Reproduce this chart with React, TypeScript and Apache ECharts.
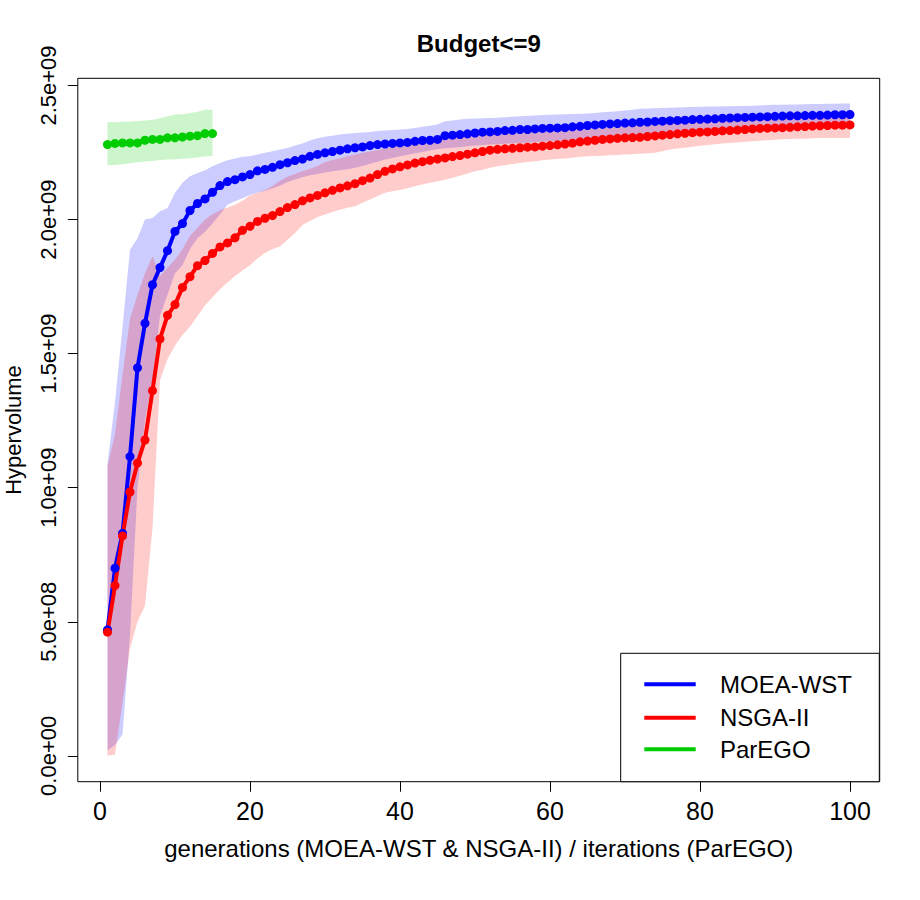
import React, { useEffect, useRef } from "react";
import * as echarts from "echarts";

const SCALE = 1e9;
const FONT = "'Liberation Sans', Arial, sans-serif";

const chartTitle = "Budget<=9";
const xAxisName = "generations (MOEA-WST & NSGA-II) / iterations (ParEGO)";
const yAxisName = "Hypervolume";
const legendNames = ["MOEA-WST", "NSGA-II", "ParEGO"];
const lineColors = ["#0000FF", "#FF0000", "#00CD00"];
const bandColors = ["rgba(0,0,255,0.2)", "rgba(255,0,0,0.2)", "rgba(0,205,0,0.2)"];

const generations = Array.from({ length: 100 }, (_, i) => i + 1);
const iterations = Array.from({ length: 15 }, (_, i) => i + 1);

const xTicks = [0, 20, 40, 60, 80, 100];
const yTicks = [0, 0.5e9, 1.0e9, 1.5e9, 2.0e9, 2.5e9];

// values in units of 1e9
const moeaMean = [
  0.47, 0.70, 0.83, 1.116, 1.447, 1.613, 1.757, 1.821, 1.884, 1.956,
  1.985, 2.034, 2.060, 2.077, 2.102, 2.127, 2.142, 2.149, 2.159, 2.168,
  2.182, 2.187, 2.195, 2.205, 2.212, 2.220, 2.226, 2.236, 2.243, 2.249,
  2.254, 2.259, 2.264, 2.268, 2.271, 2.276, 2.280, 2.282, 2.284, 2.286,
  2.288, 2.292, 2.295, 2.296, 2.299, 2.313, 2.315, 2.317, 2.320, 2.323,
  2.326, 2.327, 2.329, 2.332, 2.333, 2.336, 2.336, 2.338, 2.340, 2.341,
  2.342, 2.343, 2.346, 2.348, 2.351, 2.353, 2.355, 2.357, 2.358, 2.360,
  2.361, 2.363, 2.364, 2.366, 2.367, 2.369, 2.370, 2.371, 2.373, 2.374,
  2.375, 2.376, 2.378, 2.379, 2.380, 2.381, 2.382, 2.383, 2.384, 2.385,
  2.386, 2.387, 2.387, 2.388, 2.389, 2.389, 2.390, 2.391, 2.391, 2.392,
];
const moeaUpper = [
  1.09, 1.32, 1.60, 1.888, 1.93, 2.00, 2.006, 2.031, 2.043, 2.100,
  2.137, 2.162, 2.174, 2.184, 2.199, 2.211, 2.221, 2.228, 2.234, 2.236,
  2.243, 2.249, 2.255, 2.261, 2.267, 2.276, 2.284, 2.295, 2.303, 2.309,
  2.313, 2.317, 2.320, 2.323, 2.325, 2.327, 2.330, 2.332, 2.334, 2.336,
  2.338, 2.342, 2.346, 2.350, 2.356, 2.367, 2.370, 2.373, 2.376, 2.377,
  2.378, 2.379, 2.380, 2.382, 2.384, 2.385, 2.387, 2.388, 2.390, 2.391,
  2.392, 2.393, 2.394, 2.395, 2.396, 2.398, 2.400, 2.402, 2.404, 2.407,
  2.410, 2.413, 2.414, 2.415, 2.416, 2.417, 2.418, 2.419, 2.420, 2.421,
  2.422, 2.422, 2.423, 2.423, 2.424, 2.424, 2.425, 2.426, 2.427, 2.428,
  2.428, 2.429, 2.429, 2.430, 2.431, 2.431, 2.432, 2.432, 2.433, 2.433,
];
const moeaLower = [
  0.02, 0.04, 0.08, 0.45, 1.00, 1.25, 1.40, 1.64, 1.72, 1.80,
  1.83, 1.89, 1.93, 1.955, 1.985, 2.02, 2.055, 2.068, 2.08, 2.092,
  2.100, 2.108, 2.117, 2.126, 2.140, 2.150, 2.158, 2.165, 2.170, 2.176,
  2.180, 2.184, 2.188, 2.193, 2.200, 2.208, 2.216, 2.224, 2.230, 2.236,
  2.242, 2.247, 2.252, 2.258, 2.262, 2.266, 2.268, 2.271, 2.274, 2.276,
  2.278, 2.280, 2.281, 2.283, 2.284, 2.286, 2.287, 2.289, 2.290, 2.292,
  2.293, 2.295, 2.297, 2.299, 2.300, 2.302, 2.304, 2.306, 2.308, 2.310,
  2.312, 2.314, 2.316, 2.318, 2.320, 2.322, 2.324, 2.326, 2.328, 2.330,
  2.332, 2.334, 2.336, 2.338, 2.340, 2.341, 2.343, 2.344, 2.346, 2.348,
  2.349, 2.350, 2.352, 2.353, 2.355, 2.356, 2.357, 2.358, 2.359, 2.360,
];

const nsgaMean = [
  0.461, 0.635, 0.82, 0.984, 1.092, 1.178, 1.362, 1.555, 1.643, 1.683,
  1.747, 1.787, 1.828, 1.847, 1.874, 1.898, 1.913, 1.932, 1.960, 1.975,
  1.993, 2.005, 2.015, 2.030, 2.045, 2.056, 2.070, 2.081, 2.090, 2.100,
  2.109, 2.118, 2.126, 2.134, 2.145, 2.155, 2.168, 2.180, 2.189, 2.197,
  2.204, 2.211, 2.216, 2.221, 2.226, 2.230, 2.235, 2.239, 2.244, 2.249,
  2.254, 2.259, 2.262, 2.264, 2.266, 2.268, 2.270, 2.271, 2.274, 2.276,
  2.279, 2.282, 2.285, 2.290, 2.293, 2.296, 2.299, 2.301, 2.303, 2.305,
  2.306, 2.307, 2.310, 2.312, 2.315, 2.317, 2.320, 2.322, 2.324, 2.326,
  2.327, 2.329, 2.331, 2.332, 2.334, 2.336, 2.338, 2.340, 2.341, 2.342,
  2.343, 2.344, 2.346, 2.347, 2.349, 2.350, 2.351, 2.352, 2.352, 2.353,
];
const nsgaUpper = [
  1.08, 1.20, 1.42, 1.63, 1.72, 1.80, 1.863, 1.79, 1.82, 1.85,
  1.89, 1.94, 1.97, 2.00, 2.02, 2.035, 2.045, 2.055, 2.07, 2.09,
  2.10, 2.11, 2.125, 2.145, 2.16, 2.17, 2.18, 2.19, 2.20, 2.215,
  2.222, 2.229, 2.236, 2.243, 2.249, 2.254, 2.260, 2.265, 2.271, 2.277,
  2.282, 2.286, 2.292, 2.300, 2.311, 2.313, 2.314, 2.315, 2.316, 2.317,
  2.318, 2.320, 2.321, 2.323, 2.324, 2.325, 2.325, 2.326, 2.327, 2.328,
  2.330, 2.331, 2.333, 2.335, 2.337, 2.339, 2.341, 2.343, 2.345, 2.347,
  2.349, 2.352, 2.354, 2.355, 2.357, 2.358, 2.360, 2.361, 2.363, 2.365,
  2.366, 2.367, 2.368, 2.369, 2.370, 2.371, 2.372, 2.373, 2.374, 2.375,
  2.376, 2.377, 2.377, 2.378, 2.378, 2.379, 2.379, 2.380, 2.380, 2.381,
];
const nsgaLower = [
  0.0, 0.005, 0.20, 0.40, 0.50, 0.56, 0.85, 1.40, 1.48, 1.53,
  1.57, 1.60, 1.64, 1.68, 1.71, 1.74, 1.765, 1.79, 1.81, 1.83,
  1.855, 1.875, 1.89, 1.90, 1.925, 1.95, 1.98, 1.995, 2.01, 2.019,
  2.028, 2.037, 2.044, 2.05, 2.063, 2.075, 2.088, 2.10, 2.106, 2.11,
  2.117, 2.124, 2.131, 2.137, 2.143, 2.149, 2.156, 2.164, 2.172, 2.18,
  2.186, 2.193, 2.199, 2.203, 2.207, 2.211, 2.215, 2.218, 2.221, 2.224,
  2.226, 2.228, 2.231, 2.234, 2.236, 2.237, 2.238, 2.240, 2.241, 2.243,
  2.244, 2.246, 2.247, 2.249, 2.255, 2.261, 2.265, 2.268, 2.272, 2.275,
  2.278, 2.281, 2.284, 2.286, 2.288, 2.290, 2.292, 2.294, 2.296, 2.298,
  2.300, 2.301, 2.302, 2.302, 2.303, 2.304, 2.304, 2.304, 2.304, 2.304,
];

const paregoMean = [
  2.280, 2.284, 2.286, 2.286, 2.286, 2.296, 2.299, 2.299, 2.305, 2.305,
  2.308, 2.311, 2.313, 2.321, 2.321,
];
const paregoUpper = [
  2.363, 2.363, 2.365, 2.366, 2.368, 2.370, 2.372, 2.378, 2.385, 2.392,
  2.393, 2.398, 2.402, 2.410, 2.410,
];
const paregoLower = [
  2.203, 2.204, 2.206, 2.210, 2.214, 2.217, 2.219, 2.222, 2.224, 2.225,
  2.227, 2.229, 2.232, 2.236, 2.236,
];

function fmtSci(v: number): string {
  const [m, e] = v.toExponential(1).split("e");
  const sign = e[0] === "-" ? "-" : "+";
  const digits = e.replace(/[+-]/, "").padStart(2, "0");
  return `${m}e${sign}${digits}`;
}

function bandSeries(name: string, xs: number[], lo: number[], hi: number[], fill: string) {
  return {
    type: "custom",
    name,
    silent: true,
    clip: true,
    z: 1,
    data: [[xs[0], lo[0] * SCALE]],
    renderItem: (_params: any, api: any) => {
      const pts: number[][] = [];
      for (let i = 0; i < xs.length; i++) pts.push(api.coord([xs[i], hi[i] * SCALE]));
      for (let i = xs.length - 1; i >= 0; i--) pts.push(api.coord([xs[i], lo[i] * SCALE]));
      return { type: "polygon", shape: { points: pts }, style: { fill, stroke: null } };
    },
  };
}

function lineSeries(name: string, xs: number[], vs: number[], color: string) {
  return {
    type: "line",
    name,
    silent: true,
    z: 2,
    data: xs.map((x, i) => [x, vs[i] * SCALE]),
    symbol: "circle",
    symbolSize: 9,
    showSymbol: true,
    showAllSymbol: true,
    lineStyle: { width: 4, color },
    itemStyle: { color },
  };
}

export default function App() {
  const ref = useRef<HTMLDivElement>(null);
  useEffect(() => {
    if (!ref.current) return;
    const chart = echarts.init(ref.current, null, { renderer: "svg" });
    const legendY = [684.3, 717.7, 749.3];
    const legendGraphics: any[] = [
      {
        type: "rect",
        shape: { x: 620.7, y: 653.3, width: 258.6, height: 128.4 },
        style: { fill: "#ffffff", stroke: "#000000", lineWidth: 1 },
        z: 100,
      },
    ];
    legendNames.forEach((n, i) => {
      legendGraphics.push({
        type: "line",
        shape: { x1: 644.3, y1: legendY[i], x2: 695.7, y2: legendY[i] },
        style: { stroke: lineColors[i], lineWidth: 4 },
        z: 101,
      });
      legendGraphics.push({
        type: "text",
        x: 720,
        y: legendY[i],
        style: {
          text: n,
          fill: "#000",
          font: `24px ${FONT}`,
          textAlign: "left",
          textVerticalAlign: "middle",
        },
        z: 101,
      });
    });

    chart.setOption({
      animation: false,
      backgroundColor: "#ffffff",
      title: {
        text: chartTitle,
        left: 478.75,
        top: 31,
        textAlign: "center",
        padding: 0,
        textStyle: { fontFamily: FONT, fontWeight: "bold", fontSize: 24, color: "#000" },
      },
      grid: {
        left: 77.8,
        right: 40.3,
        top: 78.3,
        bottom: 118.3,
        show: true,
        borderColor: "#000",
        borderWidth: 1,
        backgroundColor: "transparent",
        containLabel: false,
        outerBoundsMode: "none",
      },
      xAxis: {
        type: "value",
        min: -2.96,
        max: 103.96,
        axisLine: { show: false, onZero: false },
        splitLine: { show: false },
        axisTick: { show: true, inside: false, customValues: xTicks, length: 10, lineStyle: { color: "#000", width: 1 } },
        axisLabel: { customValues: xTicks, margin: 17, color: "#000", fontSize: 25, fontFamily: FONT },
        name: xAxisName,
        nameLocation: "middle",
        nameGap: 55,
        nameTextStyle: { color: "#000", fontSize: 24, fontFamily: FONT },
      },
      yAxis: {
        type: "value",
        min: -0.0965e9,
        max: 2.527e9,
        axisLine: { show: false, onZero: false },
        splitLine: { show: false },
        axisTick: { show: true, inside: false, customValues: yTicks, length: 10, lineStyle: { color: "#000", width: 1 } },
        axisLabel: {
          customValues: yTicks,
          rotate: 90,
          margin: 18,
          color: "#000",
          fontSize: 22,
          fontFamily: FONT,
          formatter: (v: number) => fmtSci(v),
        },
        name: yAxisName,
        nameLocation: "middle",
        nameRotate: 90,
        nameGap: 53,
        nameTextStyle: { color: "#000", fontSize: 22, lineHeight: 22, fontFamily: FONT },
      },
      graphic: legendGraphics,
      series: [
        bandSeries("MOEA-WST band", generations, moeaLower, moeaUpper, bandColors[0]),
        bandSeries("NSGA-II band", generations, nsgaLower, nsgaUpper, bandColors[1]),
        bandSeries("ParEGO band", iterations, paregoLower, paregoUpper, bandColors[2]),
        lineSeries(legendNames[0], generations, moeaMean, lineColors[0]),
        lineSeries(legendNames[1], generations, nsgaMean, lineColors[1]),
        lineSeries(legendNames[2], iterations, paregoMean, lineColors[2]),
      ],
    });
    return () => chart.dispose();
  }, []);
  return (
    <div
      ref={ref}
      style={{ position: "absolute", left: 0, top: 0, width: 920, height: 900, background: "#fff" }}
    />
  );
}
